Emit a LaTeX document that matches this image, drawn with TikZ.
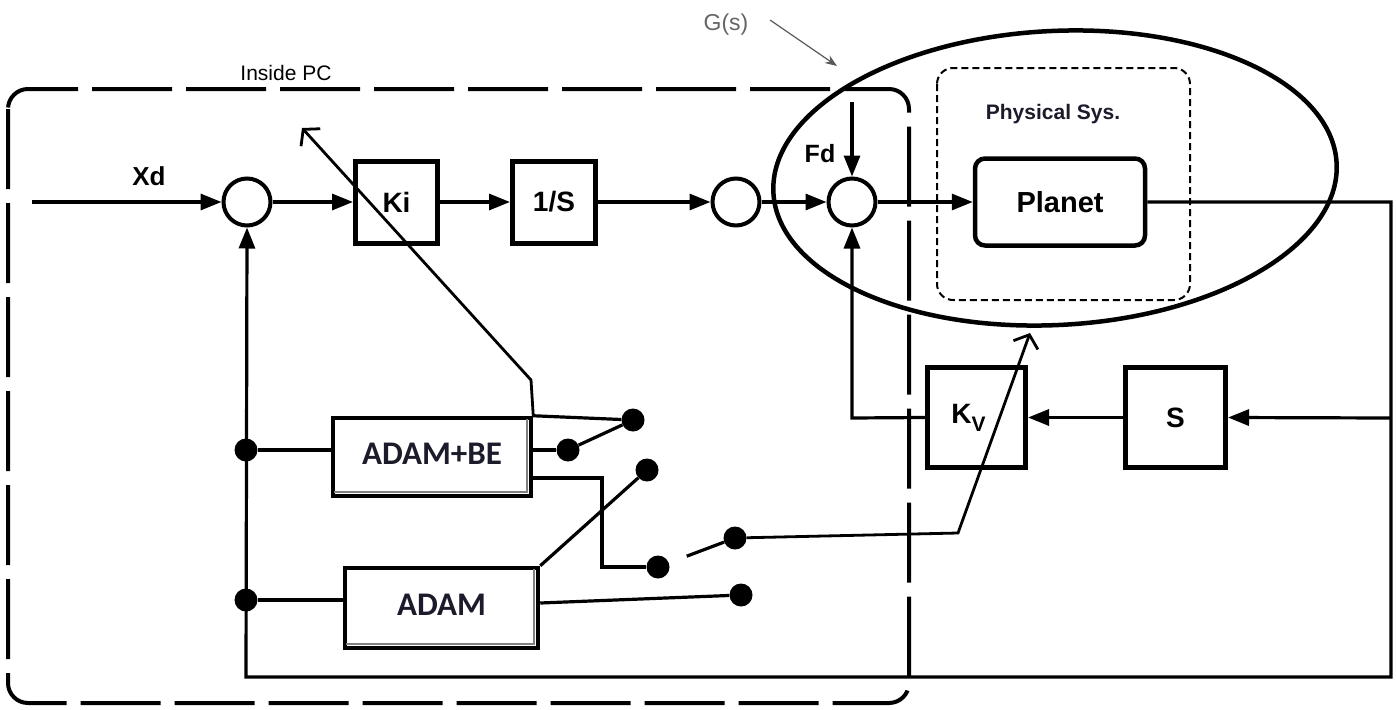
\documentclass[tikz,border=0pt]{standalone}
\usepackage{fontspec}
\setmainfont{Liberation Sans}
\newfontfamily\calib{Carlito}
\usetikzlibrary{arrows.meta,shapes.geometric,calc}
\definecolor{txt}{HTML}{1B1B2B}
\begin{document}
\begin{tikzpicture}[x=1pt,y=-1pt,
  ln/.style={line width=3.2pt},
  arr/.style={line width=3.2pt,-{Triangle[length=21pt,width=16pt]}},
  varr/.style={line width=2.8pt,-{Straight Barb[length=11pt,width=26pt]}},
  sumc/.style={circle,draw,line width=4pt,minimum size=47pt,inner sep=0pt},
  blk/.style={draw,line width=5pt,inner sep=0pt,font=\bfseries\fontsize{28}{30}\selectfont},
  dot/.style={circle,fill,minimum size=23pt,inner sep=0pt},
  adamblk/.style={draw,line width=4.5pt,inner sep=0pt,font=\calib\bfseries\fontsize{33}{35}\selectfont,text=txt},
  lbl/.style={inner sep=0pt,font=\bfseries\fontsize{26}{28}\selectfont},
  shad/.style={line width=1.6pt,gray}
]
\useasboundingbox (0,0) rectangle (1396,709);

% Inside PC dashed box
\draw[line width=4pt,dash pattern=on 80pt off 14pt,rounded corners=20pt] (8,89) rectangle (909,703);
\node[inner sep=0pt,font=\fontsize{21}{23}\selectfont] (pclbl) at (286,73) {Inside PC};

% G(s) ellipse and physical system box
\node[draw,ellipse,line width=4.5pt,minimum width=564pt,minimum height=294pt,rotate=3,inner sep=0pt] (gs) at (1055,178) {};
\draw[line width=2pt,dash pattern=on 7pt off 4pt,rounded corners=16pt] (937,68) rectangle (1190,300);
\node[inner sep=0pt,font=\bfseries\fontsize{21}{23}\selectfont,text=txt] (physlbl) at (1053,114) {Physical Sys.};
\node[inner sep=0pt,text=gray!80!black,font=\fontsize{23}{25}\selectfont] (gslbl) at (726,25) {G(s)};
\coordinate (gstart) at (770,20);
\coordinate (gtip) at (837,66);
\draw[gray!70!black,line width=1.2pt,-{Stealth[length=12pt,width=9pt]}] (gstart) -- (gtip);

% forward path
\node[sumc] (sum1) at (247,202) {};
\node[blk,minimum width=82pt,minimum height=82pt] (ki) at (396.5,202) {Ki};
\node[blk,minimum width=83pt,minimum height=82pt] (invs) at (554,202) {1/S};
\node[sumc] (sum2) at (736,202) {};
\node[sumc] (sum3) at (852,202) {};
\node[draw,line width=4.5pt,rounded corners=10pt,minimum width=170pt,minimum height=87pt,inner sep=0pt,font=\bfseries\fontsize{29}{31}\selectfont] (planet) at (1060,202) {Planet};

% feedback blocks
\node[blk,minimum width=98pt,minimum height=100pt] (kv) at (976.5,417.5) {\hspace*{-16pt}K\raisebox{-8pt}{\fontsize{21}{21}\selectfont V}};
\node[blk,minimum width=100pt,minimum height=100pt] (sblk) at (1175.5,417.5) {S};

% ADAM blocks
\node[adamblk,minimum width=198pt,minimum height=78pt] (adambe) at (432,457) {\raisebox{6pt}{ADAM+BE}};
\node[adamblk,minimum width=193pt,minimum height=80pt] (adam) at (441.5,608) {\raisebox{6pt}{ADAM}};
\draw[shad] ($(adambe.south west)+(3,-6)$) -- ($(adambe.south east)+(-6,-6)$) -- ($(adambe.north east)+(-6,3)$);
\draw[shad] ($(adam.south west)+(3,-6)$) -- ($(adam.south east)+(-6,-6)$) -- ($(adam.north east)+(-6,3)$);

% dots
\node[dot] (d1) at (246,450) {};
\node[dot] (d2) at (246,600) {};
\node[dot] (a1) at (633,420) {};
\node[dot] (a2) at (568,450) {};
\node[dot] (b1) at (647,470) {};
\node[dot] (s1) at (658,567) {};
\node[dot] (s2) at (735,538) {};
\node[dot] (b2) at (741,595) {};

% labels
\node[lbl] (xdlbl) at (149,176) {Xd};
\node[lbl,font=\bfseries\fontsize{25}{27}\selectfont] (fdlbl) at (820,154) {Fd};

% coordinates
\coordinate (xin) at (32,202);
\coordinate (fdin) at (852,102);
\coordinate (outr) at (1391,202);
\coordinate (botr) at (1391,677);
\coordinate (botl) at (246,677);
\coordinate (sin) at (1391,418);
\coordinate (fbk) at (852,418);
\coordinate (kitip) at (302,128);
\coordinate (kibend) at (531,380);
\coordinate (kvtip) at (1030,333);
\coordinate (kvbend) at (958,533);
\coordinate (bel) at (602,478);

% connectors
\draw[arr] (xin) -- (sum1.west);
\draw[arr] (sum1) -- (ki);
\draw[arr] (ki) -- (invs);
\draw[arr] (invs) -- (sum2);
\draw[arr] (sum2) -- (sum3);
\draw[arr] (sum3) -- (planet);
\draw[arr] (fdin) -- (sum3.north);
\draw[arr] (planet.east) -- (outr) -- (botr) -- (botl) -- (sum1.south);
\draw[arr] (sin) -- (sblk.east);
\draw[arr] (sblk) -- (kv);
\draw[arr] (kv.west) -- (fbk) -- (sum3.south);
\draw[ln] (d1) -- (d1 -| adambe.west);
\draw[ln] (d2) -- (d2 -| adam.west);
\draw[ln] (adambe.north east) -- (a1);
\draw[ln] (a2 -| adambe.east) -- (a2);
\draw[ln] (a2) -- (a1);
\draw[ln] (adambe.east |- bel) -- (bel) -- (bel |- s1) -- (s1);
\draw[ln,shorten <=19pt] (s1) -- (s2);
\draw[ln] (adam.north east) -- (b1);
\draw[ln] ([yshift=5pt]adam.east) -- (b2);
\draw[varr] (adambe.north east) -- (kibend) -- (kitip);
\draw[varr] (s2) -- (kvbend) -- (kvtip);
\end{tikzpicture}
\end{document}
